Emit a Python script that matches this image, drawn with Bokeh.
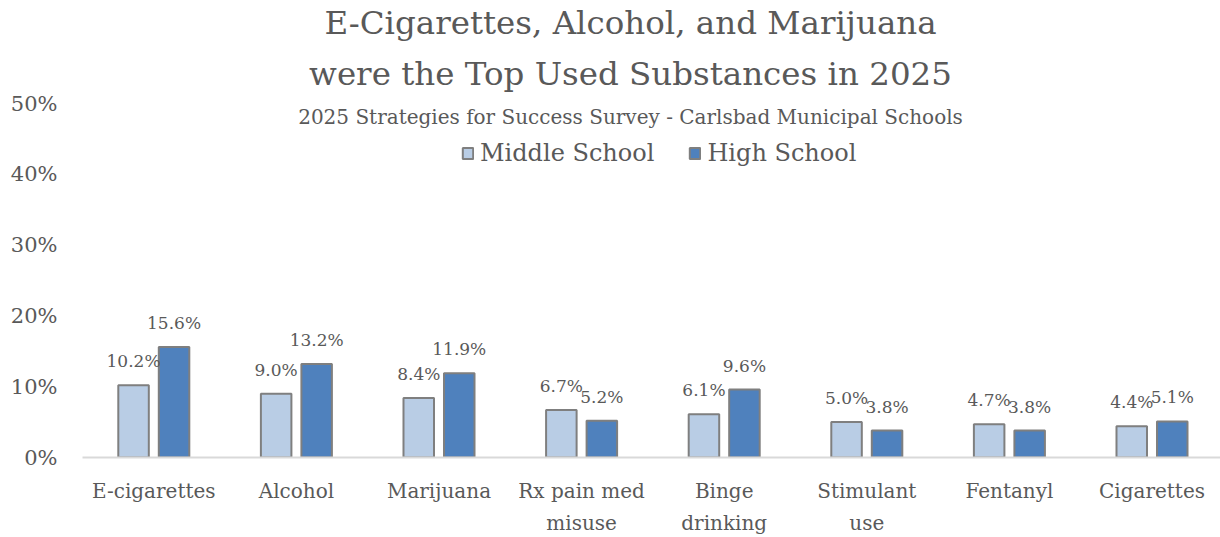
from bokeh.plotting import figure
from bokeh.models import (ColumnDataSource, Range1d, FixedTicker, Label, Legend,
                          LegendItem, NumeralTickFormatter)
from bokeh.transform import dodge
from bokeh.core.properties import value
from bokeh.embed import file_html
from bokeh.resources import INLINE

categories = ["E-cigarettes", "Alcohol", "Marijuana", "Rx pain med\nmisuse",
              "Binge\ndrinking", "Stimulant\nuse", "Fentanyl", "Cigarettes"]
middle_school = [0.102, 0.090, 0.084, 0.067, 0.061, 0.050, 0.047, 0.044]
high_school = [0.156, 0.132, 0.119, 0.052, 0.096, 0.038, 0.038, 0.051]
y_ticks = [0.0, 0.1, 0.2, 0.3, 0.4, 0.5]

FONT = "DejaVu Serif"
TXT = "#595959"
LIGHT = "#B9CDE5"
DARK = "#4F81BD"
EDGE = "#7F7F7F"

W, H = 1220, 537
LEFT, BOTTOM = 82, 80
frame_w = W - LEFT
frame_h = H - BOTTOM
cat_px = 142.6
px_per_unit = 708.0

xpos = [i + 0.5 for i in range(len(categories))]
src = ColumnDataSource(dict(
    x=xpos, ms=middle_school, hs=high_school,
    ms_lab=[f"{v*100:.1f}%" for v in middle_school],
    hs_lab=[f"{v*100:.1f}%" for v in high_school],
))

p = figure(width=W, height=H, output_backend="svg", toolbar_location=None,
           x_range=Range1d(0, frame_w / cat_px), y_range=Range1d(0, frame_h / px_per_unit),
           min_border_left=LEFT, min_border_right=0, min_border_top=0,
           min_border_bottom=BOTTOM, outline_line_color=None)
p.xgrid.visible = False
p.ygrid.visible = False

bw = 0.214
off = 0.142
r1 = p.vbar(x=dodge("x", -off), top="ms", width=bw, source=src,
            fill_color=LIGHT, line_color=EDGE, line_width=2)
r2 = p.vbar(x=dodge("x", off), top="hs", width=bw, source=src,
            fill_color=DARK, line_color=EDGE, line_width=2)

for col, lab, dx in (("ms", "ms_lab", -off), ("hs", "hs_lab", off)):
    p.text(x=dodge("x", dx), y=col, text=lab, source=src, text_align="center",
           text_baseline="middle", y_offset=-24, text_color=TXT,
           text_font=value(FONT), text_font_size="17px")

# axes
p.yaxis.ticker = FixedTicker(ticks=y_ticks)
p.yaxis.formatter = NumeralTickFormatter(format="0%")
p.yaxis.axis_line_color = None
p.yaxis.major_tick_line_color = None
p.yaxis.minor_tick_line_color = None
p.yaxis.major_label_standoff = 19
p.yaxis.major_label_text_font = FONT
p.yaxis.major_label_text_font_size = "21px"
p.yaxis.major_label_text_color = TXT

p.xaxis.ticker = FixedTicker(ticks=xpos)
p.xaxis.major_label_overrides = {x: c for x, c in zip(xpos, categories)}
p.xaxis.axis_line_color = "#D9D9D9"
p.xaxis.axis_line_width = 2
p.xaxis.major_tick_line_color = None
p.xaxis.minor_tick_line_color = None
p.xaxis.major_label_standoff = 15
p.xaxis.major_label_text_font = FONT
p.xaxis.major_label_text_font_size = "20px"
p.xaxis.major_label_text_line_height = 1.35
p.xaxis.major_label_text_color = TXT

# titles
cx = (630 - LEFT) / cat_px
def ylev(ref_y):
    return (frame_h - ref_y) / px_per_unit

for txt, ry, fs in (("E-Cigarettes, Alcohol, and Marijuana", 22, "32.5px"),
                    ("were the Top Used Substances in 2025", 73, "32.5px"),
                    ("2025 Strategies for Success Survey - Carlsbad Municipal Schools", 116, "20px")):
    p.add_layout(Label(x=cx, y=ylev(ry), text=txt, text_align="center",
                       text_baseline="middle", text_font=FONT, text_font_size=fs,
                       text_color=TXT))

legend = Legend(items=[LegendItem(label="Middle School", renderers=[r1]),
                       LegendItem(label="High School", renderers=[r2])],
                orientation="horizontal", location=(379, 290),
                glyph_width=13, glyph_height=14, label_standoff=6, spacing=34,
                padding=0, margin=0, background_fill_alpha=0, border_line_alpha=0,
                label_text_font=FONT, label_text_font_size="24px",
                label_text_color=TXT)
p.add_layout(legend)

open("out.html", "w").write(file_html(p, INLINE))
